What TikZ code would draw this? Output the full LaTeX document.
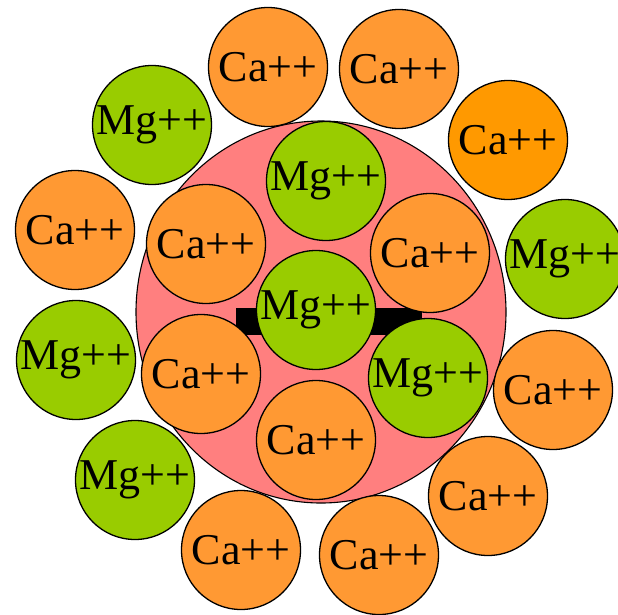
\documentclass[tikz,border=0pt]{standalone}
\usepackage{fontspec}
\setmainfont{Liberation Serif}
\definecolor{caorange}{HTML}{FF9933}
\definecolor{cabright}{HTML}{FF9900}
\definecolor{mggreen}{HTML}{99CC00}
\definecolor{pinkcore}{HTML}{FF7F7F}
\begin{document}
\begin{tikzpicture}[x=1pt, y=-1pt,
  ion/.style={circle, draw=black, line width=1.3pt, minimum size=119pt, inner sep=0pt,
    font=\fontsize{44}{50}\selectfont},
  ca/.style={ion, fill=caorange},
  mg/.style={ion, fill=mggreen}]
\useasboundingbox (0,0) rectangle (618,614);
\filldraw[fill=pinkcore, line width=1.1pt] (321,312) ellipse (185pt and 191pt);
\fill (236,308) rectangle (422,335);
% inner group
\node[mg] (mgtop) at (326,181) {\makebox[0pt]{Mg++}};
\node[ca] (caileft) at (206,244) {\makebox[0pt]{Ca++}};
\node[ca] (cairight) at (430,253) {\makebox[0pt]{Ca++}};
\node[mg] (mgmid) at (316,310) {\makebox[0pt]{Mg++}};
\node[ca] (cailow) at (201,374) {\makebox[0pt]{Ca++}};
\node[mg] (mgright) at (428,378) {\makebox[0pt]{Mg++}};
\node[ca] (cabot) at (316,440) {\makebox[0pt]{Ca++}};
% outer ring
\node[ca] (ca1) at (268,67) {\makebox[0pt]{Ca++}};
\node[ca] (ca2) at (399,69) {\makebox[0pt]{Ca++}};
\node[ca, fill=cabright] (ca3) at (508,140) {\makebox[0pt]{Ca++}};
\node[mg] (mg1) at (152,125) {\makebox[0pt]{Mg++}};
\node[ca] (ca4) at (75,230) {\makebox[0pt]{Ca++}};
\node[mg] (mg2) at (565,259) {\makebox[0pt]{Mg++}};
\node[mg] (mg3) at (76,360) {\makebox[0pt]{Mg++}};
\node[ca] (ca5) at (553,390) {\makebox[0pt]{Ca++}};
\node[mg] (mg4) at (135,480) {\makebox[0pt]{Mg++}};
\node[ca] (ca6) at (488,496) {\makebox[0pt]{Ca++}};
\node[ca] (ca7) at (241,550) {\makebox[0pt]{Ca++}};
\node[ca] (ca8) at (379,555) {\makebox[0pt]{Ca++}};
\end{tikzpicture}
\end{document}
